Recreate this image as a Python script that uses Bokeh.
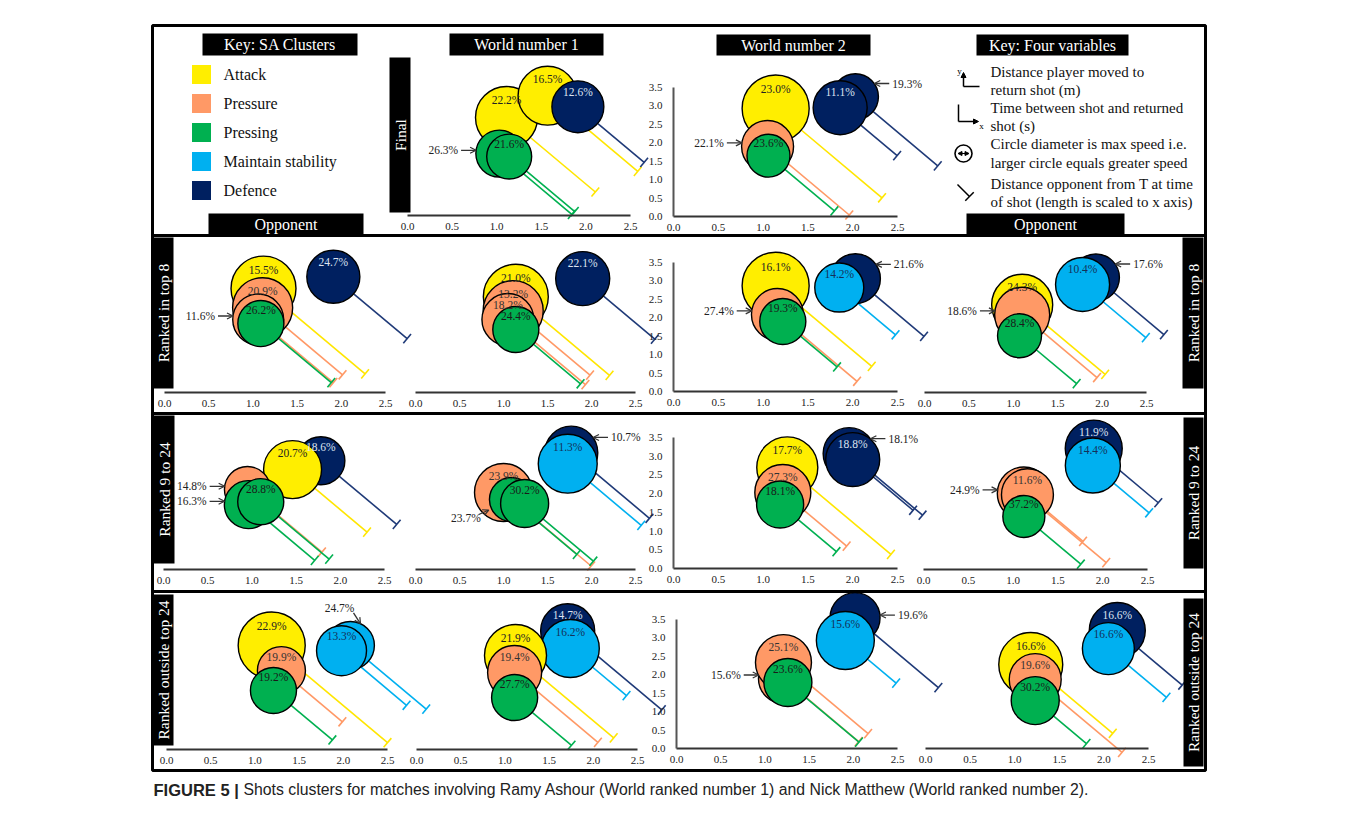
import math
from bokeh.plotting import figure
from bokeh.models import (Range1d, LinearAxis, FixedTicker, PrintfTickFormatter,
                          Arrow, TeeHead, OpenHead, NormalHead, ColumnDataSource)
from bokeh.embed import file_html
from bokeh.resources import INLINE
from bokeh.core.properties import value

# ------------------------------------------------------------------ data
CLUSTERS = ["Attack", "Pressure", "Pressing", "Maintain stability", "Defence"]
COL_TITLES = ["World number 1", "World number 2"]
ROW_TITLES = ["Final", "Ranked in top 8", "Ranked 9 to 24", "Ranked outside top 24"]
X_TICKS = [0.0, 0.5, 1.0, 1.5, 2.0, 2.5]
Y_TICKS = [0.0, 0.5, 1.0, 1.5, 2.0, 2.5, 3.0, 3.5]
KEY_VARIABLES = [
    ("Distance player moved to", "return shot (m)"),
    ("Time between shot and returned", "shot (s)"),
    ("Circle diameter is max speed i.e.", "larger circle equals greater speed"),
    ("Distance opponent from T at time", "of shot (length is scaled to x axis)"),
]
CAPTION_BOLD = "FIGURE 5 |"
CAPTION = ("Shots clusters for matches involving Ramy Ashour (World ranked number 1) "
           "and Nick Matthew (World ranked number 2).")

A, P, G, M, D = CLUSTERS
# panel keys: F=Final, T=top 8, N=9 to 24, O=outside top 24 ; 1..4 = column
panel = (["F1"] * 5 + ["F2"] * 5 + ["T1"] * 5 + ["T2"] * 5 + ["T3"] * 5 + ["T4"] * 5 +
         ["N1"] * 5 + ["N2"] * 5 + ["N3"] * 5 + ["N4"] * 5 +
         ["O1"] * 5 + ["O2"] * 5 + ["O3"] * 5 + ["O4"] * 5)
cluster = [A, A, D, G, G,   A, P, G, D, D,
           A, P, P, G, D,   A, P, P, G, D,   A, P, G, D, M,   A, P, G, D, M,
           D, A, P, G, G,   D, M, P, G, G,   A, P, G, D, D,   D, M, P, P, G,
           A, M, M, P, G,   D, M, A, P, G,   D, M, P, P, G,   D, M, A, P, G]
# time between shot and returned shot (s)
time_s = [1.11, 1.57, 1.91, 1.03, 1.14,   1.14, 1.05, 1.06, 2.03, 1.86,
          1.12, 1.11, 1.06, 1.09, 1.91,   1.14, 1.11, 1.05, 1.14, 1.90,
          1.14, 1.16, 1.22, 2.03, 1.85,   1.10, 1.10, 1.07, 1.93, 1.78,
          1.78, 1.46, 0.95, 0.96, 1.10,   1.77, 1.73, 1.00, 1.09, 1.24,
          1.27, 1.22, 1.19, 1.96, 2.00,   1.90, 1.89, 1.12, 1.16, 1.12,
          1.19, 2.08, 1.98, 1.30, 1.21,   1.71, 1.74, 1.12, 1.11, 1.11,
          2.02, 1.91, 1.21, 1.21, 1.26,   2.15, 2.05, 1.18, 1.23, 1.23]
# distance player moved to return shot (m)
dist_m = [2.66, 3.25, 2.95, 1.68, 1.60,   2.93, 1.90, 1.65, 3.25, 2.95,
          2.82, 2.30, 1.98, 1.87, 3.14,   2.60, 2.22, 1.98, 1.71, 3.09,
          2.87, 2.09, 1.90, 3.06, 2.82,   2.38, 2.11, 1.54, 3.12, 2.93,
          2.95, 2.71, 2.17, 1.76, 1.84,   3.17, 2.87, 2.09, 1.90, 1.79,
          2.70, 2.03, 1.71, 3.07, 2.91,   3.28, 2.82, 2.06, 2.03, 1.44,
          2.82, 2.82, 2.68, 2.14, 1.60,   3.22, 2.74, 2.55, 2.09, 1.41,
          3.55, 2.93, 1.90, 2.33, 1.79,   3.20, 2.71, 2.28, 1.87, 1.30]
# max speed (m/s) -> circle diameter
max_speed = [4.43, 4.21, 3.71, 3.36, 3.21,   4.79, 3.71, 3.07, 3.29, 3.86,
             4.64, 4.29, 3.64, 3.29, 3.79,   4.64, 4.29, 3.71, 3.29, 3.86,
             4.79, 3.71, 3.29, 3.57, 3.50,   4.36, 3.93, 3.14, 3.36, 3.86,
             3.43, 4.14, 3.29, 3.43, 3.29,   3.79, 4.21, 4.14, 3.14, 3.43,
             4.36, 4.00, 3.36, 3.71, 3.86,   4.07, 3.93, 3.79, 3.71, 3.00,
             4.79, 3.43, 3.57, 3.43, 3.29,   3.86, 4.14, 4.43, 3.86, 3.29,
             3.57, 4.14, 3.57, 4.00, 3.43,   4.00, 3.71, 4.57, 3.71, 3.43]
# distance of opponent from T at time of shot (m, scaled to x axis)
opp_from_T = [1.30, 1.32, 0.97, 1.06, 0.96,   1.55, 1.19, 0.96, 1.20, 0.83,
              1.50, 1.18, 1.11, 1.04, 1.09,   1.39, 1.14, 1.15, 0.96, 1.07,
              1.40, 1.16, 0.79, 1.00, 0.82,   1.22, 1.10, 0.84, 1.00, 0.93,
              1.12, 1.10, 1.10, 0.98, 1.01,   1.16, 1.09, 1.30, 0.97, 1.02,
              1.51, 0.93, 0.82, 1.07, 0.88,   0.94, 0.82, 1.20, 0.81, 0.83,
              1.71, 1.12, 0.96, 0.90, 0.87,   1.39, 0.83, 1.45, 1.23, 0.84,
              1.23, 0.75, 1.11, 1.25, 1.05,   0.95, 0.85, 1.20, 1.27, 0.75]
share = ["22.2%", "16.5%", "12.6%", "26.3%", "21.6%",   "23.0%", "22.1%", "23.6%", "19.3%", "11.1%",
         "15.5%", "20.9%", "11.6%", "26.2%", "24.7%",   "21.0%", "13.2%", "18.2%", "24.4%", "22.1%",
         "16.1%", "27.4%", "19.3%", "21.6%", "14.2%",   "24.3%", "18.6%", "28.4%", "17.6%", "10.4%",
         "18.6%", "20.7%", "14.8%", "16.3%", "28.8%",   "10.7%", "11.3%", "23.9%", "23.7%", "30.2%",
         "17.7%", "27.3%", "18.1%", "18.1%", "18.8%",   "11.9%", "14.4%", "24.9%", "11.6%", "37.2%",
         "22.9%", "24.7%", "13.3%", "19.9%", "19.2%",   "14.7%", "16.2%", "21.9%", "19.4%", "27.7%",
         "19.6%", "15.6%", "15.6%", "25.1%", "23.6%",   "16.6%", "16.6%", "16.6%", "19.6%", "30.2%"]
# where the percentage is written: inside, or outside with a pointer
callout = ["in", "in", "in", "L", "in",   "in", "L", "in", "R", "in",
           "in", "in", "L", "in", "in",   "in", "in", "in", "in", "in",
           "in", "L", "in", "R", "in",   "in", "L", "in", "R", "in",
           "in", "in", "L", "L", "in",   "R", "in", "in", "DL", "in",
           "in", "in", "in", "R", "in",   "in", "in", "L", "in", "in",
           "in", "UL", "in", "in", "in",   "in", "in", "in", "in", "in",
           "Rm", "in", "L", "in", "in",   "in", "in", "in", "in", "in"]

# ------------------------------------------------------------------ styling / layout
FILL = {A: "#FFEE00", P: "#FF9966", G: "#00B050", M: "#00B0F0", D: "#002060"}
LINE = {A: "#FFE600", P: "#FF9966", G: "#00B050", M: "#00B0F0", D: "#1F3A78"}
TXT = {A: "#222222", P: "#333333", G: "#1a1a1a", M: "#14305a", D: "#dde3f0"}
SERIF = "Liberation Serif"
SANS = "Liberation Sans"
SPEED_PX = 14.0          # px of circle diameter per m/s
ANGLE = math.radians(40)  # direction of the opponent-distance line

# page-pixel placement of each panel: x of 0.0, x of 2.5, y of 0.0, y of 3.5
GEOM = {
    "F1": (407, 630, 215, 86),  "F2": (673, 897, 216, 87),
    "T1": (164, 385, 392, 263), "T2": (415, 635, 392, 263),
    "T3": (673, 897, 391, 262), "T4": (924, 1146, 392, 263),
    "N1": (163, 384, 569, 440), "N2": (415, 635, 569, 440),
    "N3": (673, 897, 568, 437), "N4": (923, 1147, 569, 440),
    "O1": (166, 387, 749, 620), "O2": (416, 637, 749, 620),
    "O3": (676, 897, 748, 619), "O4": (925, 1148, 748, 619),
}
SHOW_Y = {"F2", "T3", "N3", "O3"}

W, H = 1341, 815
p = figure(width=W, height=H, x_range=Range1d(0, W), y_range=Range1d(H, 0),
           output_backend="svg", toolbar_location=None, x_axis_type=None, y_axis_type=None,
           min_border=0, outline_line_color=None, background_fill_color="white",
           border_fill_color="white")

xr, yr = {}, {}
for k, (x0, x25, b0, b35) in GEOM.items():
    sx = (x25 - x0) / 2.5
    sy = (b0 - b35) / 3.5
    xr[k] = Range1d((0 - x0) / sx, (W - x0) / sx)
    yr[k] = Range1d((b0 - H) / sy, b0 / sy)
p.extra_x_ranges = xr
p.extra_y_ranges = yr


def style_axis(ax):
    ax.axis_line_color = "#333333"
    ax.axis_line_width = 2
    ax.major_tick_line_color = None
    ax.minor_tick_line_color = None
    ax.major_label_text_font = SERIF
    ax.major_label_text_font_size = "11px"
    ax.major_label_text_color = "#222222"
    ax.major_label_standoff = 1


# ------------------------------------------------------------------ frame & headers
p.quad(left=[152], right=[1205], top=[25], bottom=[770], fill_color=None,
       line_color="black", line_width=3)
p.segment(x0=[152] * 3, x1=[1205] * 3, y0=[235, 413, 591], y1=[235, 413, 591],
          line_color="black", line_width=3)


def black_box(l, r, t, b, label, vertical=False, size="16px"):
    p.quad(left=[l], right=[r], top=[t], bottom=[b], fill_color="black", line_color=None)
    p.text(x=[(l + r) / 2], y=[(t + b) / 2], text=[label],
           angle=math.pi / 2 if vertical else 0, text_align="center",
           text_baseline="middle", text_color="white", text_font=value(SERIF),
           text_font_size=size)


black_box(202, 357, 33, 55, "Key: SA Clusters")
black_box(449, 603, 33, 55, COL_TITLES[0])
black_box(716, 870, 34, 55, COL_TITLES[1])
black_box(976, 1128, 34, 55, "Key: Four variables")
black_box(208, 363, 213, 234, "Opponent")
black_box(966, 1124, 213, 234, "Opponent")
black_box(389, 410, 57, 212, ROW_TITLES[0], True, "15.5px")
black_box(153, 173, 237, 388, ROW_TITLES[1], True, "15.5px")
black_box(1182, 1203, 237, 388, ROW_TITLES[1], True, "15.5px")
black_box(153, 174, 415, 563, ROW_TITLES[2], True, "15.5px")
black_box(1183, 1203, 417, 568, ROW_TITLES[2], True, "15.5px")
black_box(153, 173, 594, 745, ROW_TITLES[3], True, "15.5px")
black_box(1183, 1203, 598, 766, ROW_TITLES[3], True, "15.5px")

# cluster key
key_y = [74, 103, 132, 161, 190]
p.scatter(x=[201] * 5, y=key_y, marker="square", size=19,
          fill_color=[FILL[c] for c in CLUSTERS], line_color=None)
p.text(x=[223] * 5, y=key_y, text=CLUSTERS, text_align="left", text_baseline="middle",
       text_font=value(SERIF), text_font_size="16px", text_color="#111111")

# four-variable key
kv_y = [71, 89, 107, 125, 143, 162, 183, 201]
kv_txt = [t for pair in KEY_VARIABLES for t in pair]
p.text(x=[990] * 8, y=kv_y, text=kv_txt, text_align="left", text_baseline="middle",
       text_font=value(SERIF), text_font_size="15px", text_color="#111111")
p.segment(x0=[963, 958], y0=[86, 104], x1=[979, 958], y1=[86, 121], line_color="black",
          line_width=1.5)
p.add_layout(Arrow(x_start=963, y_start=86, x_end=963, y_end=72, line_width=1.5,
                   end=NormalHead(size=5, fill_color="black", line_color="black")))
p.add_layout(Arrow(x_start=958, y_start=121, x_end=978, y_end=121, line_width=1.5,
                   end=NormalHead(size=5, fill_color="black", line_color="black")))
p.text(x=[959, 981], y=[70, 125], text=["y", "x"], text_align="center",
       text_baseline="middle", text_font=value(SERIF), text_font_size="9px")
p.scatter(x=[963], y=[153], size=17, fill_color="white", line_color="black", line_width=1.6)
p.add_layout(Arrow(x_start=957.5, y_start=153, x_end=968.5, y_end=153, line_width=1.2,
                   start=NormalHead(size=4, fill_color="black", line_color="black"),
                   end=NormalHead(size=4, fill_color="black", line_color="black")))
p.add_layout(Arrow(x_start=957, y_start=184, x_end=969, y_end=196, line_width=1.5,
                   end=TeeHead(size=12, line_width=1.5, line_color="black")))

# caption
p.text(x=[153], y=[789], text=[CAPTION_BOLD], text_align="left", text_baseline="middle",
       text_font=value(SANS), text_font_size="16.5px", text_font_style="bold",
       text_color="#222222")
p.text(x=[243], y=[789], text=[CAPTION], text_align="left", text_baseline="middle",
       text_font=value(SANS), text_font_size="15.8px", text_color="#222222")

# ------------------------------------------------------------------ panels
for k, (x0, x25, b0, b35) in GEOM.items():
    sx = (x25 - x0) / 2.5
    sy = (b0 - b35) / 3.5
    ax = LinearAxis(x_range_name=k, y_range_name=k, fixed_location=0, bounds=(0, 2.5),
                    ticker=FixedTicker(ticks=X_TICKS),
                    formatter=PrintfTickFormatter(format="%.1f"))
    style_axis(ax)
    p.add_layout(ax, "below")
    if k in SHOW_Y:
        ay = LinearAxis(x_range_name=k, y_range_name=k, fixed_location=0, bounds=(0, 3.5),
                        ticker=FixedTicker(ticks=Y_TICKS),
                        formatter=PrintfTickFormatter(format="%.1f"))
        style_axis(ay)
        ay.axis_line_color = "#555555"
        ay.major_label_standoff = 5
        p.add_layout(ay, "left")

    idx = [i for i, pn in enumerate(panel) if pn == k]

    # opponent distance lines (behind circles)
    for i in idx:
        c = LINE[cluster[i]]
        L = opp_from_T[i]
        xe = time_s[i] + L * math.cos(ANGLE)
        ye = dist_m[i] - L * sx * math.sin(ANGLE) / sy
        p.add_layout(Arrow(x_start=time_s[i], y_start=dist_m[i], x_end=xe, y_end=ye,
                           x_range_name=k, y_range_name=k, line_color=c, line_width=1.6,
                           end=TeeHead(size=12, line_color=c, line_width=1.6),
                           level="underlay"))

    src = ColumnDataSource(dict(
        x=[time_s[i] for i in idx], y=[dist_m[i] for i in idx],
        size=[max_speed[i] * SPEED_PX for i in idx],
        fill=[FILL[cluster[i]] for i in idx]))
    p.scatter("x", "y", size="size", fill_color="fill", line_color="black", line_width=1.4,
              source=src, x_range_name=k, y_range_name=k)

    ins = [i for i in idx if callout[i] == "in"]
    lsrc = ColumnDataSource(dict(
        x=[time_s[i] for i in ins], y=[dist_m[i] for i in ins], t=[share[i] for i in ins],
        yo=[-0.57 * max_speed[i] * SPEED_PX / 2 for i in ins],
        col=[TXT[cluster[i]] for i in ins]))
    p.text("x", "y", text="t", y_offset="yo", text_color="col", source=lsrc,
           x_range_name=k, y_range_name=k, text_align="center", text_baseline="middle",
           text_font=value(SERIF), text_font_size="11.5px")

    for i in idx:
        kind = callout[i]
        if kind == "in":
            continue
        r = max_speed[i] * SPEED_PX / 2
        if kind == "L":
            phi = math.radians(172)
            tip = (r * math.cos(phi), r * math.sin(phi))
            tail = (tip[0] - 15, tip[1])
            tpos, align = (tail[0] - 3, tail[1]), "right"
        elif kind in ("R", "Rm"):
            phi = math.radians(35 if kind == "R" else 6)
            tip = (r * math.cos(phi), r * math.sin(phi))
            tail = (tip[0] + 15, tip[1])
            tpos, align = (tail[0] + 3, tail[1]), "left"
        elif kind == "DL":
            phi = math.radians(205)
            tip = ((r + 3) * math.cos(phi), (r + 3) * math.sin(phi))
            tail = (tip[0] - 10, tip[1] - 4.5)
            tpos, align = (tail[0] + 2, tail[1] - 3), "right"
        else:  # UL: label above-left, pointer going down-right onto the circle top
            phi = math.radians(65)
            tip = (r * math.cos(phi), r * math.sin(phi))
            tail = (tip[0] - 7, tip[1] + 11)
            tpos, align = (tail[0] - 14, tail[1] + 5), "center"
        cx, cy = time_s[i], dist_m[i]
        p.add_layout(Arrow(x_start=cx + tail[0] / sx, y_start=cy + tail[1] / sy,
                           x_end=cx + tip[0] / sx, y_end=cy + tip[1] / sy,
                           x_range_name=k, y_range_name=k, line_color="#333333",
                           line_width=1.3,
                           end=OpenHead(size=6, line_color="#333333", line_width=1.2)))
        p.text(x=[cx + tpos[0] / sx], y=[cy + tpos[1] / sy], text=[share[i]],
               x_range_name=k, y_range_name=k, text_align=align, text_baseline="middle",
               text_font=value(SERIF), text_font_size="11.5px", text_color="#222222")

open("out.html", "w").write(file_html(p, INLINE))
